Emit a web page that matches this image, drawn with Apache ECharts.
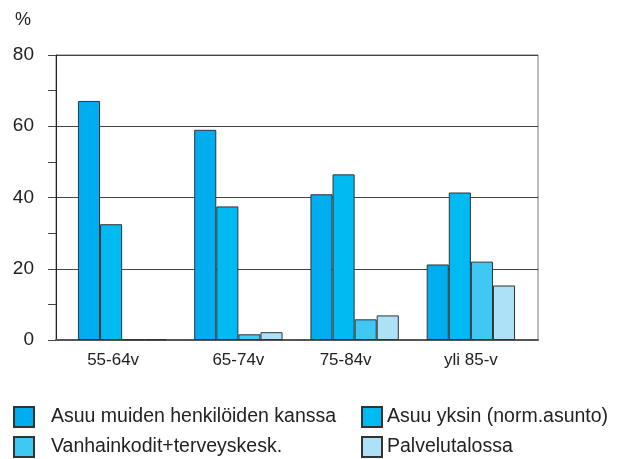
<!DOCTYPE html>
<html>
<head>
<meta charset="utf-8">
<script src="https://cdn.jsdelivr.net/npm/echarts@6/dist/echarts.min.js"></script>
<style>
  html, body { margin: 0; padding: 0; background: #fff; }
  #chart { width: 621px; height: 459px; }
</style>
</head>
<body>
<div id="chart"></div>
<script>
// Age groups on the x axis
var categories = ['55-64v', '65-74v', '75-84v', 'yli 85-v'];

// Share of each age group by type of living (%)
var seriesNames = [
  'Asuu muiden henkilöiden kanssa',
  'Asuu yksin (norm.asunto)',
  'Vanhainkodit+terveyskesk.',
  'Palvelutalossa'
];
var withOthers   = [67.1, 59.0, 40.9, 21.2];
var alone        = [32.5, 37.5, 46.5, 41.4];
var careHomes    = [0.2, 1.6, 5.8, 22.0];
var serviceHomes = [0.2, 2.2, 6.9, 15.3];

// Value axis ticks
var yMin = 0, yMax = 80, yStep = 20;

var colors = ['#00AEEF', '#00BAF2', '#40C8F5', '#ADE1F8'];
var values = [withOthers, alone, careHomes, serviceHomes];
var font = 'Liberation Sans, Arial, sans-serif';

var chart = echarts.init(document.getElementById('chart'), null, { renderer: 'canvas' });

// Bars live in an inner grid; the outer grid carries the frame and the value axis
var series = seriesNames.map(function (name, i) {
  return {
    name: name,
    type: 'bar',
    xAxisIndex: 1,
    yAxisIndex: 1,
    data: values[i],
    barGap: '0%',
    barCategoryGap: '24%',
    itemStyle: { color: colors[i], borderColor: '#333', borderWidth: 1 },
    emphasis: { disabled: true }
  };
});

// One legend block per entry, laid out in two columns
var legendSpots = [
  { left: 8, top: 401, pad: 12 },
  { left: 356, top: 401, pad: 0 },
  { left: 8, top: 431, pad: 12 },
  { left: 356, top: 431, pad: 0 }
];
var legends = seriesNames.map(function (name, i) {
  var s = legendSpots[i];
  return {
    data: [name],
    left: s.left, top: s.top,
    itemWidth: 20, itemHeight: 20,
    icon: 'rect',
    selectedMode: false,
    textStyle: { fontSize: 19.5, color: '#222', padding: [0, 0, 0, s.pad], fontFamily: font }
  };
});

chart.setOption({
  animation: false,
  textStyle: { fontFamily: font },
  title: {
    text: '%', left: 10, top: 6,
    textStyle: { fontSize: 18, fontWeight: 'normal', color: '#222', fontFamily: font }
  },
  grid: [
    { left: 56, right: 83, top: 55, bottom: 119, show: true, borderColor: '#777', borderWidth: 1 },
    { left: 64, right: 92, top: 55, bottom: 119 }
  ],
  legend: legends,
  xAxis: [
    {
      gridIndex: 0,
      type: 'category',
      data: categories,
      axisLine: { lineStyle: { color: '#555', width: 2 } },
      axisTick: { show: false },
      axisLabel: { show: false }
    },
    {
      gridIndex: 1,
      type: 'category',
      data: categories,
      axisLine: { show: false },
      axisTick: { show: false },
      axisLabel: {
        fontSize: 17, color: '#222', margin: 12, fontFamily: font,
        // first and third labels sit a little left of their bar groups
        formatter: function (v, i) { return i % 2 === 0 ? '{l|' + v + '}' : v; },
        rich: { l: { fontSize: 17, color: '#222', fontFamily: font, padding: [0, 18, 0, 0] } }
      }
    }
  ],
  yAxis: [
    {
      gridIndex: 0,
      type: 'value',
      min: yMin, max: yMax, interval: yStep,
      axisLine: { show: true, lineStyle: { color: '#222', width: 1 } },
      axisTick: { show: true, inside: false, length: 8, lineStyle: { color: '#444' } },
      minorTick: { show: true, splitNumber: 2, length: 8, lineStyle: { color: '#444' } },
      splitLine: { show: true, lineStyle: { color: '#444', width: 1 } },
      axisLabel: { fontSize: 19, color: '#222', margin: 22, fontFamily: font }
    },
    {
      gridIndex: 1,
      type: 'value',
      min: yMin, max: yMax, interval: yStep,
      show: false
    }
  ],
  series: series
});
</script>
</body>
</html>
